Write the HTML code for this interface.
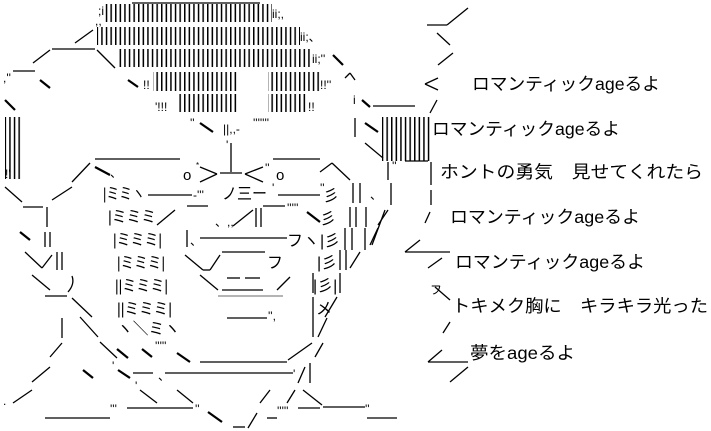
<!DOCTYPE html>
<html><head><meta charset="utf-8"><style>
html,body{margin:0;padding:0;background:#fff;}
svg{display:block;}
text{font-family:"Liberation Sans","Noto Sans CJK JP",sans-serif;fill:#000;}
.j{font-size:17.5px;}
.m{font-size:16px;}
.s{font-size:12px;}
</style></head><body>
<svg width="711" height="431" viewBox="0 0 711 431" xmlns="http://www.w3.org/2000/svg">
<defs>
<pattern id="b" width="4.6" height="30" patternUnits="userSpaceOnUse"><rect x="0" y="0" width="1.5" height="30" fill="#000"/></pattern>
</defs>
<g fill="url(#b)">
<rect x="103" y="4" width="169" height="18"/>
<rect x="97" y="27" width="203" height="18"/>
<rect x="118" y="49" width="194" height="18"/>
<rect x="153" y="72" width="86" height="19"/>
<rect x="268" y="72" width="53" height="19"/>
<rect x="178" y="94" width="61" height="18"/>
<rect x="268" y="94" width="40" height="18"/>
<rect x="5" y="117" width="18" height="62"/>
<rect x="382" y="117" width="50" height="44"/>
</g>
<g stroke="#000" stroke-width="1.3" fill="none">
<line x1="132" y1="3" x2="260" y2="3"/>
<line x1="75" y1="43" x2="93" y2="30"/><line x1="52" y1="49" x2="95" y2="49"/><line x1="97" y1="50" x2="115" y2="68"/>
<line x1="33" y1="63" x2="50" y2="50"/><line x1="13" y1="71" x2="35" y2="71"/>
<line x1="40" y1="80" x2="50" y2="88" stroke-width="2.2"/><line x1="128" y1="80" x2="138" y2="87" stroke-width="2.2"/>
<line x1="5" y1="100" x2="15" y2="110" stroke-width="2.2"/>
<line x1="333" y1="55" x2="343" y2="65" stroke-width="2.2"/>
<line x1="345" y1="78" x2="350" y2="73"/><line x1="350" y1="73" x2="355" y2="80"/>
<line x1="200" y1="123" x2="213" y2="132" stroke-width="2.2"/>
<line x1="231" y1="143" x2="231" y2="172"/>
<line x1="5" y1="187" x2="22" y2="202"/><line x1="23" y1="207" x2="43" y2="207"/><line x1="47" y1="207" x2="47" y2="227"/>
<line x1="52" y1="200" x2="72" y2="187"/><line x1="72" y1="182" x2="90" y2="163"/>
<line x1="95" y1="159" x2="180" y2="159"/><line x1="95" y1="167" x2="110" y2="175" stroke-width="2.2"/>
<line x1="20" y1="232" x2="30" y2="240" stroke-width="2.2"/><line x1="45" y1="232" x2="45" y2="247"/><line x1="50" y1="232" x2="50" y2="247"/>
<line x1="25" y1="252" x2="42" y2="268"/><line x1="42" y1="268" x2="52" y2="255"/><line x1="57" y1="252" x2="57" y2="270"/><line x1="62" y1="252" x2="62" y2="270"/>
<line x1="32" y1="275" x2="50" y2="290"/><path d="M72 276 Q75 284 68 292"/>
<line x1="45" y1="296" x2="67" y2="296"/><line x1="72" y1="298" x2="92" y2="317"/>
<line x1="62" y1="318" x2="62" y2="338"/><line x1="80" y1="317" x2="98" y2="337"/>
<line x1="50" y1="357" x2="62" y2="343"/><line x1="32" y1="382" x2="50" y2="367"/><line x1="13" y1="403" x2="32" y2="390"/>
<line x1="83" y1="370" x2="93" y2="378" stroke-width="2.2"/>
<line x1="100" y1="342" x2="117" y2="358"/>
<line x1="117" y1="349" x2="128" y2="358" stroke-width="2.2"/>
<line x1="142" y1="349" x2="152" y2="357" stroke-width="2.2"/>
<line x1="177" y1="353" x2="190" y2="362" stroke-width="2.2"/>
<line x1="200" y1="362" x2="287" y2="362"/><line x1="288" y1="360" x2="312" y2="343"/><line x1="315" y1="357" x2="323" y2="343"/>
<line x1="118" y1="370" x2="130" y2="378" stroke-width="2.2"/>
<line x1="133" y1="373" x2="153" y2="373"/><line x1="165" y1="373" x2="293" y2="373"/>
<line x1="298" y1="383" x2="305" y2="367"/><line x1="310" y1="363" x2="310" y2="383"/>
<line x1="140" y1="390" x2="157" y2="403"/><line x1="177" y1="390" x2="193" y2="403"/>
<line x1="260" y1="403" x2="270" y2="390"/><line x1="287" y1="403" x2="295" y2="390"/><line x1="303" y1="390" x2="322" y2="405"/><line x1="323" y1="407" x2="365" y2="407"/>
<line x1="45" y1="418" x2="110" y2="418"/><line x1="127" y1="408" x2="193" y2="408"/>
<line x1="208" y1="412" x2="222" y2="422" stroke-width="2.2"/><line x1="233" y1="427" x2="245" y2="427"/><line x1="248" y1="428" x2="257" y2="413"/>
<line x1="267" y1="418" x2="277" y2="418"/><line x1="298" y1="408" x2="320" y2="408"/><line x1="367" y1="418" x2="397" y2="418"/>
<line x1="200" y1="167" x2="217" y2="174"/><line x1="217" y1="174" x2="200" y2="182"/>
<line x1="220" y1="173" x2="242" y2="173"/>
<line x1="263" y1="167" x2="245" y2="174"/><line x1="245" y1="174" x2="263" y2="182"/>
<line x1="273" y1="159" x2="320" y2="159"/>
<line x1="320" y1="172" x2="332" y2="163"/><line x1="332" y1="163" x2="350" y2="180"/>
<line x1="148" y1="195" x2="192" y2="195"/><line x1="278" y1="195" x2="320" y2="195"/>
<line x1="157" y1="225" x2="175" y2="210"/><line x1="187" y1="206" x2="208" y2="206"/>
<line x1="233" y1="226" x2="253" y2="210"/><line x1="256" y1="208" x2="256" y2="227"/><line x1="261" y1="208" x2="261" y2="227"/>
<line x1="263" y1="206" x2="285" y2="206"/><line x1="307" y1="212" x2="320" y2="222" stroke-width="2.2"/>
<line x1="187" y1="230" x2="187" y2="247"/><line x1="200" y1="238" x2="287" y2="238"/>
<line x1="185" y1="255" x2="203" y2="270"/><line x1="203" y1="270" x2="210" y2="270"/><line x1="210" y1="270" x2="220" y2="255"/>
<line x1="222" y1="252" x2="265" y2="252"/>
<line x1="200" y1="275" x2="218" y2="290"/><line x1="227" y1="278" x2="240" y2="278"/><line x1="245" y1="278" x2="260" y2="278"/>
<line x1="222" y1="290" x2="263" y2="290"/><line x1="277" y1="290" x2="290" y2="277"/>
<line x1="218" y1="296" x2="283" y2="296" stroke="#888"/>
<line x1="227" y1="318" x2="267" y2="318"/>
<line x1="353" y1="183" x2="353" y2="203"/><line x1="360" y1="183" x2="360" y2="203"/>
<line x1="350" y1="207" x2="350" y2="227"/><line x1="356" y1="207" x2="356" y2="227"/><line x1="366" y1="207" x2="366" y2="227"/><line x1="378" y1="225" x2="388" y2="210"/>
<line x1="345" y1="228" x2="345" y2="250"/><line x1="352" y1="228" x2="352" y2="250"/><line x1="365" y1="228" x2="365" y2="250"/><line x1="370" y1="245" x2="378" y2="228"/>
<line x1="340" y1="250" x2="340" y2="270"/><line x1="346" y1="250" x2="346" y2="270"/><line x1="350" y1="268" x2="360" y2="252"/>
<line x1="340" y1="273" x2="340" y2="293"/>
<line x1="325" y1="317" x2="337" y2="297"/><line x1="318" y1="337" x2="327" y2="318"/>
<line x1="313" y1="297" x2="313" y2="337"/><line x1="313" y1="273" x2="313" y2="293"/>
<line x1="355" y1="118" x2="355" y2="137"/><line x1="365" y1="123" x2="378" y2="132" stroke-width="2.2"/>
<line x1="362" y1="100" x2="370" y2="107" stroke-width="2.2"/><line x1="373" y1="106" x2="415" y2="106"/>
<line x1="365" y1="143" x2="383" y2="158"/>
<line x1="388" y1="162" x2="388" y2="180"/><line x1="405" y1="161" x2="428" y2="161"/>
<line x1="431" y1="162" x2="431" y2="185"/><line x1="431" y1="190" x2="431" y2="205"/>
<line x1="391" y1="183" x2="391" y2="205"/>
<line x1="372" y1="245" x2="385" y2="210"/><line x1="425" y1="223" x2="430" y2="212"/>
<line x1="405" y1="252" x2="450" y2="252"/><line x1="405" y1="252" x2="420" y2="240"/>
<line x1="427" y1="25" x2="447" y2="25"/><line x1="447" y1="25" x2="468" y2="8"/>
<line x1="437" y1="33" x2="450" y2="45"/><line x1="438" y1="65" x2="453" y2="53"/>
<line x1="438" y1="78" x2="425" y2="84"/><line x1="425" y1="84" x2="438" y2="90"/>
<line x1="430" y1="113" x2="437" y2="100"/>
<line x1="428" y1="268" x2="442" y2="258"/>
<line x1="435" y1="287" x2="450" y2="300"/><line x1="443" y1="333" x2="450" y2="322"/>
<line x1="428" y1="362" x2="442" y2="350"/><line x1="428" y1="362" x2="468" y2="362"/><line x1="450" y1="382" x2="468" y2="367"/>
</g>
<g class="s">
<text x="95" y="25">,,</text><text x="98" y="15">;i</text>
<text x="272" y="18">ii;,</text><text x="300" y="41">ii;、</text><text x="312" y="63">ii;''</text>
<text x="3" y="82">,''</text>
<text x="143" y="89">!!</text><text x="320" y="89">!!''</text>
<text x="155" y="111">'!!!</text><text x="308" y="111">!!</text>
<text x="190" y="127">''</text><text x="223" y="133">||,,-</text><text x="253" y="127">'''''''</text><text x="226" y="149">'</text>
<text x="5" y="178">!'</text>
<text x="353" y="104">i</text>
<text x="183" y="180" style="font-size:15px">o</text><text x="196" y="168" style="font-size:8px">*</text>
<text x="265" y="172">''</text><text x="276" y="180" style="font-size:15px">o</text>
<text x="110" y="177">、</text>
<text x="193" y="199">-'''</text><text x="272" y="192">'</text><text x="320" y="192">''</text>
<text x="370" y="199">、</text><text x="215" y="226">、,,</text><text x="287" y="212">'''''</text>
<text x="190" y="245">、</text><text x="268" y="320">'',</text>
<text x="155" y="350">'''''</text><text x="112" y="370">'</text><text x="158" y="380">、</text><text x="293" y="378">'</text>
<text x="135" y="390">'</text><text x="110" y="413">'''</text><text x="195" y="413">''</text><text x="277" y="415">'''''</text>
<text x="365" y="413">''</text><text x="3" y="405">.</text><text x="392" y="170">''</text>
</g>
<g class="m">
<text x="103" y="199" textLength="42" lengthAdjust="spacingAndGlyphs">|ミミヽ</text>
<text x="108" y="222" textLength="48" lengthAdjust="spacingAndGlyphs">|ミミミ</text>
<text x="113" y="245" textLength="49" lengthAdjust="spacingAndGlyphs">|ミミミ|</text>
<text x="117" y="268" textLength="48" lengthAdjust="spacingAndGlyphs">|ミミミ|</text>
<text x="115" y="291" textLength="53" lengthAdjust="spacingAndGlyphs">||ミミミ|</text>
<text x="117" y="314" textLength="55" lengthAdjust="spacingAndGlyphs">||ミミミ|</text>
<text x="117" y="334" textLength="63" lengthAdjust="spacingAndGlyphs">ヽ＼ミヽ</text>
<text x="222" y="199" textLength="45" lengthAdjust="spacingAndGlyphs">ノ三ー</text>
<text x="287" y="246">フヽ</text>
<text x="267" y="268">フ</text>
<text x="323" y="201">彡</text>
<text x="320" y="224">彡</text>
<text x="320" y="246">|彡</text>
<text x="317" y="268">|彡</text>
<text x="313" y="291">|彡|</text>
<text x="316" y="314">メ</text>
<text x="430" y="294" style="font-size:12px">フ</text>
</g>
<g class="j">
<text x="472" y="90" textLength="188" lengthAdjust="spacingAndGlyphs">ロマンティックageるよ</text>
<text x="432" y="135" textLength="188" lengthAdjust="spacingAndGlyphs">ロマンティックageるよ</text>
<text x="440" y="178" textLength="263" lengthAdjust="spacingAndGlyphs">ホントの勇気　見せてくれたら</text>
<text x="450" y="223" textLength="190" lengthAdjust="spacingAndGlyphs">ロマンティックageるよ</text>
<text x="455" y="268" textLength="190" lengthAdjust="spacingAndGlyphs">ロマンティックageるよ</text>
<text x="452" y="312" textLength="256" lengthAdjust="spacingAndGlyphs">トキメク胸に　キラキラ光った</text>
<text x="470" y="359" textLength="105" lengthAdjust="spacingAndGlyphs">夢をageるよ</text>
</g>
</svg>
</body></html>
